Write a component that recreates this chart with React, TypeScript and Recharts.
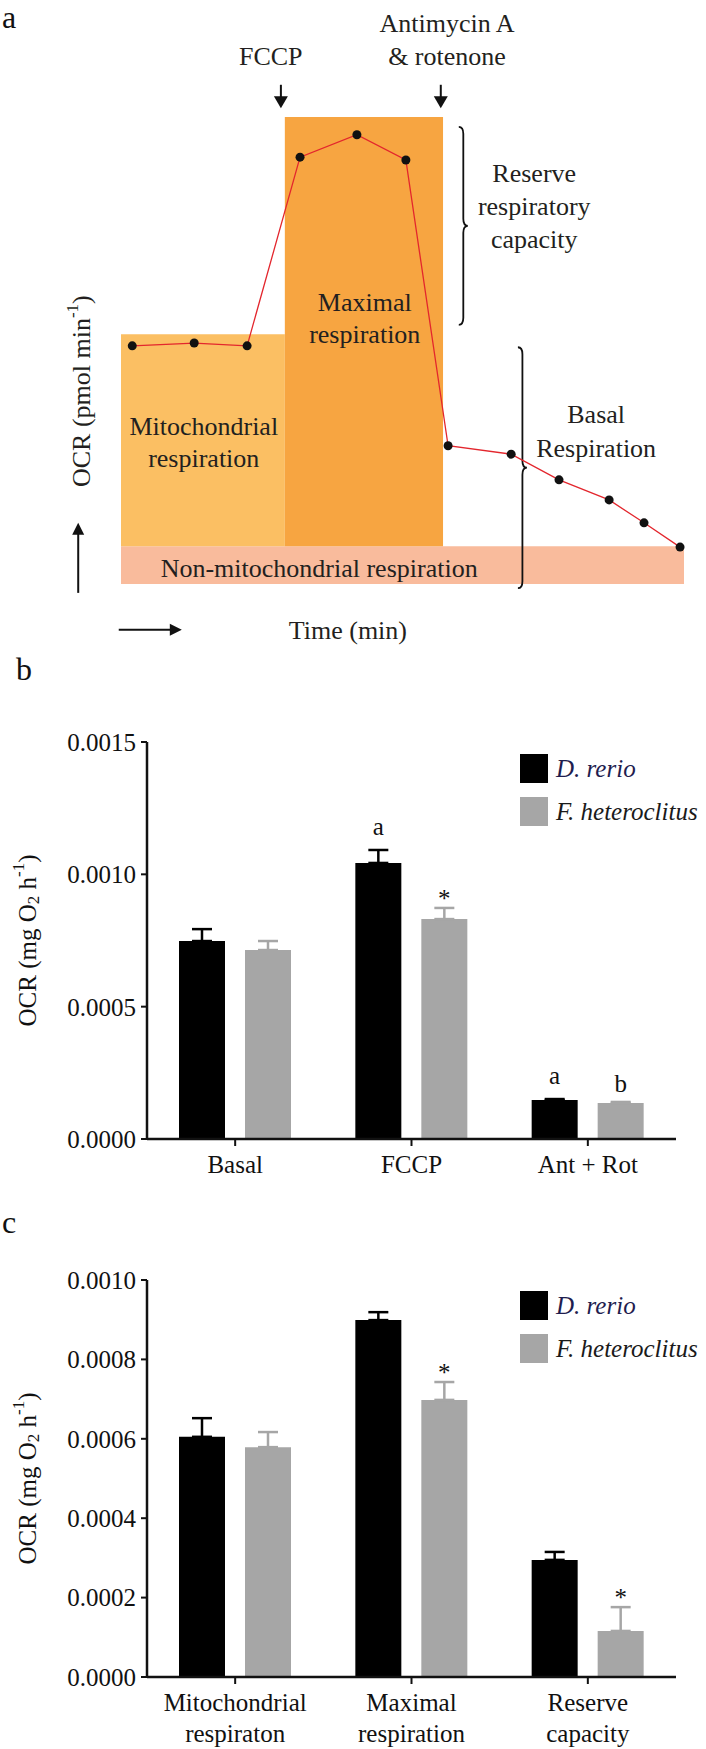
import React from 'react';
import {
  ComposedChart,
  Line,
  XAxis,
  YAxis,
  ReferenceArea,
  ReferenceDot,
  BarChart,
  Bar,
  ErrorBar,
  LabelList,
  Legend,
} from 'recharts';

const SERIF = "'Liberation Serif', Tinos, 'Times New Roman', Times, 'Nimbus Roman', 'DejaVu Serif', serif";
const INK = '#231F20';

// panel a - schematic OCR trace (arbitrary units)
const traceTime = [2, 13, 22.4, 31.8, 41.9, 50.6, 58.1, 69.3, 77.8, 86.7, 92.9, 99.3];
const traceOcr = [51, 51.6, 51, 91.4, 96.2, 90.8, 29.6, 27.8, 22.3, 18, 13.1, 7.9];
const trace = traceTime.map((t, i) => ({ t, ocr: traceOcr[i] }));

// shaded phases: non-mitochondrial, mitochondrial, maximal
const phaseStart = [0, 0, 29.1];
const phaseEnd = [100, 29.1, 57.2];
const phaseLow = [0, 8.1, 8.1];
const phaseHigh = [8.1, 53.5, 100];
const phaseFill = ['#F9BB9C', '#FBBF63', '#F7A541'];

// injection times
const injectTime = [28.4, 56.8];
const injectLabel = [['FCCP'], ['Antimycin A', '& rotenone']];

// panel b
const bCategories = ['Basal', 'FCCP', 'Ant + Rot'];
const bRerio = [0.000748, 0.001043, 0.000147];
const bRerioErr = [0.000045, 0.000049, 0.000004];
const bHetero = [0.000714, 0.000831, 0.000136];
const bHeteroErr = [0.000034, 0.000042, 0.000004];
const bRerioMark = ['', 'a', 'a'];
const bHeteroMark = ['', '*', 'b'];
const bTicks = [0, 0.0005, 0.001, 0.0015];

// panel c
const cCategories = ['Mitochondrial\nrespiraton', 'Maximal\nrespiration', 'Reserve\ncapacity'];
const cRerio = [0.000605, 0.000899, 0.000295];
const cRerioErr = [0.000047, 0.00002, 0.00002];
const cHetero = [0.000579, 0.000698, 0.000116];
const cHeteroErr = [0.000038, 0.000045, 0.00006];
const cRerioMark = ['', '', ''];
const cHeteroMark = ['', '*', '*'];
const cTicks = [0, 0.0002, 0.0004, 0.0006, 0.0008, 0.001];

const SPECIES = ['D. rerio', 'F. heteroclitus'];
const BLACK = '#000000';
const GREY = '#A6A6A6';

// ---------- panel a helpers ----------
const NoteText = ({ cx, cy, lines, gap = 33, size = 26 }: any) => (
  <text x={cx} y={cy} textAnchor="middle" dominantBaseline="central" fontFamily={SERIF} fontSize={size} fill={INK}>
    {lines.map((l: string, i: number) => (
      <tspan key={i} x={cx} dy={i === 0 ? 0 : gap}>
        {l}
      </tspan>
    ))}
  </text>
);

const Brace = ({ x, y, width, height }: any) => {
  const x0 = x;
  const x1 = x + width;
  const xm = x + width / 2;
  const yt = y;
  const yb = y + height;
  const ym = y + height / 2;
  const r = 7;
  const d = `M${x0},${yt} Q${xm},${yt} ${xm},${yt + r} L${xm},${ym - r} Q${xm},${ym} ${x1},${ym} Q${xm},${ym} ${xm},${ym + r} L${xm},${yb - r} Q${xm},${yb} ${x0},${yb}`;
  return <path d={d} fill="none" stroke="#111" strokeWidth={1.8} />;
};

const Arrow = ({ x, y, width, height, dir }: any) => {
  const head = 12;
  const hw = 6;
  if (dir === 'right') {
    const cy = y + height / 2;
    const xe = x + width;
    return (
      <g>
        <line x1={x} y1={cy} x2={xe - head + 1} y2={cy} stroke="#111" strokeWidth={2} />
        <polygon points={`${xe},${cy} ${xe - head},${cy - hw} ${xe - head},${cy + hw}`} fill="#111" />
      </g>
    );
  }
  const cx = x + width / 2;
  if (dir === 'up') {
    return (
      <g>
        <line x1={cx} y1={y + height} x2={cx} y2={y + head - 1} stroke="#111" strokeWidth={2} />
        <polygon points={`${cx},${y} ${cx - hw},${y + head} ${cx + hw},${y + head}`} fill="#111" />
      </g>
    );
  }
  const yb = y + height;
  return (
    <g>
      <line x1={cx} y1={y} x2={cx} y2={yb - head + 1} stroke="#111" strokeWidth={2} />
      <polygon points={`${cx},${yb} ${cx - 7},${yb - head} ${cx + 7},${yb - head}`} fill="#111" />
    </g>
  );
};

const OcrPmolLabel = ({ cx, cy }: any) => (
  <text
    transform={`translate(${cx},${cy}) rotate(-90)`}
    textAnchor="middle"
    dominantBaseline="central"
    fontFamily={SERIF}
    fontSize={26}
    fill={INK}
  >
    OCR (pmol min
    <tspan fontSize={17} dy={-9}>-1</tspan>
    <tspan dy={9}>)</tspan>
  </text>
);

const SchematicPanel = () => (
  <ComposedChart width={706} height={660} data={trace} margin={{ top: 117, right: 22, bottom: 76, left: 121 }}>
    <XAxis dataKey="t" type="number" domain={[0, 100]} hide />
    <YAxis type="number" domain={[0, 100]} hide />
    {phaseStart.map((s, i) => (
      <ReferenceArea
        key={`p${i}`}
        x1={s}
        x2={phaseEnd[i]}
        y1={phaseLow[i]}
        y2={phaseHigh[i]}
        fill={phaseFill[i]}
        fillOpacity={1}
        stroke="none"
        ifOverflow="visible"
      />
    ))}
    {injectTime.map((t, i) => (
      <ReferenceArea
        key={`ia${i}`}
        x1={t - 0.5}
        x2={t + 0.5}
        y1={101.9}
        y2={106.9}
        ifOverflow="visible"
        shape={(p: any) => <Arrow {...p} dir="down" />}
      />
    ))}
    <ReferenceDot x={26.6} y={113.1} ifOverflow="visible" shape={(p: any) => <NoteText {...p} lines={injectLabel[0]} />} />
    <ReferenceDot x={57.9} y={120.1} ifOverflow="visible" shape={(p: any) => <NoteText {...p} lines={injectLabel[1]} />} />
    <ReferenceArea x1={60} x2={61.6} y1={55.5} y2={97.9} ifOverflow="visible" shape={(p: any) => <Brace {...p} />} />
    <ReferenceArea x1={70.5} x2={72.1} y1={-0.9} y2={50.7} ifOverflow="visible" shape={(p: any) => <Brace {...p} />} />
    <ReferenceDot x={73.4} y={88} ifOverflow="visible" shape={(p: any) => <NoteText {...p} lines={['Reserve', 'respiratory', 'capacity']} />} />
    <ReferenceDot x={43.3} y={60.4} ifOverflow="visible" shape={(p: any) => <NoteText {...p} gap={32} lines={['Maximal', 'respiration']} />} />
    <ReferenceDot x={14.7} y={33.8} ifOverflow="visible" shape={(p: any) => <NoteText {...p} gap={32} lines={['Mitochondrial', 'respiration']} />} />
    <ReferenceDot x={84.4} y={36.4} ifOverflow="visible" shape={(p: any) => <NoteText {...p} gap={34} lines={['Basal', 'Respiration']} />} />
    <ReferenceDot x={35.2} y={3.4} ifOverflow="visible" shape={(p: any) => <NoteText {...p} lines={['Non-mitochondrial respiration']} />} />
    <ReferenceDot x={40.3} y={-9.9} ifOverflow="visible" shape={(p: any) => <NoteText {...p} lines={['Time (min)']} />} />
    <ReferenceDot x={-7.1} y={41.3} ifOverflow="visible" shape={(p: any) => <OcrPmolLabel {...p} />} />
    <ReferenceArea x1={-8.1} x2={-7.1} y1={-1.9} y2={13.1} ifOverflow="visible" shape={(p: any) => <Arrow {...p} dir="up" />} />
    <ReferenceArea x1={-0.4} x2={10.8} y1={-10.3} y2={-9.3} ifOverflow="visible" shape={(p: any) => <Arrow {...p} dir="right" />} />
    <Line
      dataKey="ocr"
      type="linear"
      stroke="#E3262D"
      strokeWidth={1.3}
      dot={{ r: 4.5, fill: '#111', stroke: 'none' }}
      isAnimationActive={false}
    />
  </ComposedChart>
);

// ---------- bar panels ----------
const markLift: Record<string, number> = { a: 15, b: 10, '*': 1 };

const makeMark = (vals: number[], errs: number[]) => (p: any) => {
  const vb = p.viewBox || p;
  const value = p.value;
  if (!value) return null;
  const idx = p.index;
  const h = Math.abs(vb.height);
  const errPx = (h * errs[idx]) / vals[idx];
  const top = Math.min(vb.y, vb.y + vb.height);
  return (
    <text
      x={vb.x + vb.width / 2}
      y={top - errPx - (markLift[value] ?? 8)}
      textAnchor="middle"
      fontFamily={SERIF}
      fontSize={25}
      fill="#111"
    >
      {value}
    </text>
  );
};

const CatTick = (p: any) => {
  const lines = String(p.payload.value).split('\n');
  return (
    <text x={p.x} y={p.y} textAnchor="middle" fontFamily={SERIF} fontSize={25} fill="#111">
      {lines.map((l, i) => (
        <tspan key={i} x={p.x} dy={i === 0 ? '0.71em' : 31}>
          {l}
        </tspan>
      ))}
    </text>
  );
};

const OcrMgLabel = (p: any) => {
  const vb = p.viewBox;
  const cx = vb.x + 27;
  const cy = vb.y + vb.height / 2;
  return (
    <text
      transform={`translate(${cx},${cy}) rotate(-90)`}
      textAnchor="middle"
      dominantBaseline="central"
      fontFamily={SERIF}
      fontSize={25}
      fill="#111"
    >
      OCR (mg O
      <tspan fontSize={17} dy={6}>2</tspan>
      <tspan dy={-6}> h</tspan>
      <tspan fontSize={17} dy={-9}>-1</tspan>
      <tspan dy={9}>)</tspan>
    </text>
  );
};

const SpeciesLegend = ({ payload }: any) => (
  <div style={{ fontFamily: SERIF, fontStyle: 'italic', fontSize: 25 }}>
    {(payload || []).map((e: any, i: number) => (
      <div key={i} style={{ display: 'flex', alignItems: 'center', height: 43 }}>
        <span
          style={{
            display: 'inline-block',
            width: 28,
            height: 29,
            background: e.color || (i === 0 ? BLACK : GREY),
            marginRight: 8,
          }}
        />
        <span style={{ color: i === 0 ? '#1F1D4F' : '#1A1A1A' }}>{e.value}</span>
      </div>
    ))}
  </div>
);

const BarPanel = ({ cats, dr, drErr, fh, fhErr, drMark, fhMark, ticks, height, top, axisH, legendTop }: any) => {
  const rows = cats.map((c: string, i: number) => ({
    cat: c,
    dr: dr[i],
    drErr: [0, drErr[i]],
    fh: fh[i],
    fhErr: [0, fhErr[i]],
    drMark: drMark[i],
    fhMark: fhMark[i],
  }));
  return (
    <BarChart
      width={706}
      height={height}
      data={rows}
      margin={{ top, right: 30, bottom: 0, left: 0 }}
      barSize={46}
      barGap={20}
    >
      <XAxis
        dataKey="cat"
        height={axisH}
        interval={0}
        tick={<CatTick />}
        axisLine={{ stroke: '#111', strokeWidth: 2.5 }}
        tickLine={{ stroke: '#111', strokeWidth: 2 }}
        tickSize={7}
        tickMargin={9}
      />
      <YAxis
        width={147}
        domain={[0, ticks[ticks.length - 1]]}
        ticks={ticks}
        tickFormatter={(v: number) => v.toFixed(4)}
        tick={{ fontFamily: SERIF, fontSize: 25, fill: '#111' }}
        axisLine={{ stroke: '#111', strokeWidth: 2.5 }}
        tickLine={{ stroke: '#111', strokeWidth: 2 }}
        tickSize={6}
        tickMargin={5}
        label={{ content: OcrMgLabel }}
      />
      <Legend
        layout="vertical"
        align="center"
        verticalAlign="middle"
        content={<SpeciesLegend />}
        wrapperStyle={{ left: 520, top: legendTop, width: 186, height: 86 }}
      />
      <Bar dataKey="dr" name={SPECIES[0]} fill={BLACK} isAnimationActive={false}>
        <ErrorBar dataKey="drErr" width={10} stroke={BLACK} strokeWidth={2.5} />
        <LabelList dataKey="drMark" content={makeMark(dr, drErr)} />
      </Bar>
      <Bar dataKey="fh" name={SPECIES[1]} fill={GREY} isAnimationActive={false}>
        <ErrorBar dataKey="fhErr" width={10} stroke={GREY} strokeWidth={2.5} />
        <LabelList dataKey="fhMark" content={makeMark(fh, fhErr)} />
      </Bar>
    </BarChart>
  );
};

const letter = (ch: string, left: number, baseline: number) => (
  <div
    style={{
      position: 'absolute',
      left,
      top: baseline - 27,
      fontFamily: SERIF,
      fontSize: 32,
      lineHeight: '32px',
      color: '#111',
    }}
  >
    {ch}
  </div>
);

export default function App() {
  return (
    <div style={{ position: 'relative', width: 706, height: 1749, background: '#fff', overflow: 'hidden' }}>
      <style>{'body{margin:0}'}</style>
      <div style={{ position: 'absolute', left: 0, top: 0 }}>
        <SchematicPanel />
      </div>
      <div style={{ position: 'absolute', left: 0, top: 660 }}>
        <BarPanel
          cats={bCategories}
          dr={bRerio}
          drErr={bRerioErr}
          fh={bHetero}
          fhErr={bHeteroErr}
          drMark={bRerioMark}
          fhMark={bHeteroMark}
          ticks={bTicks}
          height={530}
          top={82}
          axisH={51}
          legendTop={87}
        />
      </div>
      <div style={{ position: 'absolute', left: 0, top: 1190 }}>
        <BarPanel
          cats={cCategories}
          dr={cRerio}
          drErr={cRerioErr}
          fh={cHetero}
          fhErr={cHeteroErr}
          drMark={cRerioMark}
          fhMark={cHeteroMark}
          ticks={cTicks}
          height={559}
          top={90}
          axisH={72}
          legendTop={94}
        />
      </div>
      {letter('a', 2, 28)}
      {letter('b', 16, 680)}
      {letter('c', 2, 1233)}
    </div>
  );
}
